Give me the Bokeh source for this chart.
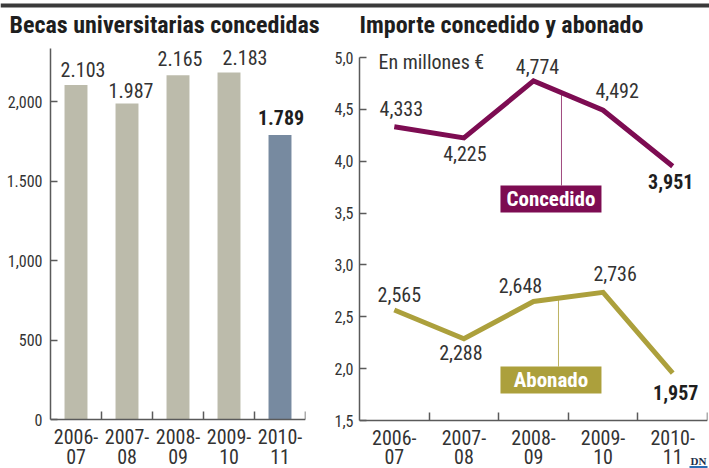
import numpy as np
from bokeh.plotting import figure
from bokeh.layouts import row, column
from bokeh.models import FixedTicker, Range1d
from bokeh.core.properties import value
from bokeh.embed import file_html
from bokeh.resources import INLINE

# ---------------- data ----------------
cursos = ["2006-07", "2007-08", "2008-09", "2009-10", "2010-11"]

becas = [2103, 1987, 2165, 2183, 1789]
becas_text = ["2.103", "1.987", "2.165", "2.183", "1.789"]
becas_ticks = [0, 500, 1000, 1500, 2000]
becas_tick_labels = ["0", "500", "1,000", "1.500", "2,000"]
becas_axis_top = 2333

concedido = [4.333, 4.225, 4.774, 4.492, 3.951]
concedido_text = ["4,333", "4,225", "4,774", "4,492", "3,951"]
abonado = [2.565, 2.288, 2.648, 2.736, 1.957]
abonado_text = ["2,565", "2,288", "2,648", "2,736", "1,957"]
importe_ticks = [1.5, 2.0, 2.5, 3.0, 3.5, 4.0, 4.5, 5.0]
importe_tick_labels = ["1,5", "2,0", "2,5", "3,0", "3,5", "4,0", "4,5", "5,0"]

titulo_becas = "Becas universitarias concedidas"
titulo_importe = "Importe concedido y abonado"
unidad = "En millones €"
series = ["Concedido", "Abonado"]
firma = "DN"

# ---------------- style ----------------
FONT = "Roboto Condensed"
TXT = "#333333"
DARK = "#1e1e1e"
AXIS = "#5a5a5a"
BAR = "#bcbbab"
BAR_HI = "#778aa0"
CONC = "#7d0c52"
ABON = "#aca03c"
W_LEFT, W_RIGHT = 330, 379
HEAD_H = 44
CHART_H = 424

xs = list(range(len(cursos)))
bounds = [i + 0.5 for i in xs]
bar_colors = [BAR] * (len(becas) - 1) + [BAR_HI]
line1 = [c.split("-")[0] + "-" for c in cursos]
line2 = [c.split("-")[1] for c in cursos]

# label nudges (pixels)
bar_dx = [7, 4, 2, 16, 1]
bar_dy = [-16, -13, -17, -15, -18]
conc_dx = [7, 1, 4, 14, -2]
conc_dy = [-18, 16, -14, -20, 15]
abon_dx = [5, -3, -13, 12, 3]
abon_dy = [-16, 14, -16, -19, 19]


def y_range_for(base, px_per_unit, px_above, px_below):
    """Range whose frame puts `base` px_below pixels above the frame bottom."""
    return Range1d(base - px_below / px_per_unit, base + px_above / px_per_unit)


def style_axes(p, yticks, ylabels, ybounds, standoff, px_below):
    p.grid.visible = False
    p.outline_line_color = None
    xa = p.xaxis[0]
    xa.fixed_location = ybounds[0]
    xa.ticker = FixedTicker(ticks=[], minor_ticks=bounds)
    xa.major_label_standoff = 0
    xa.major_tick_in = 0
    xa.major_tick_out = 0
    xa.minor_tick_in = 8
    xa.minor_tick_out = 0
    xa.minor_tick_line_color = AXIS
    xa.minor_tick_line_width = 1.5
    xa.axis_line_color = AXIS
    xa.axis_line_width = 1.5
    ya = p.yaxis[0]
    ya.bounds = ybounds
    ya.ticker = FixedTicker(ticks=yticks)
    ya.major_label_overrides = {t: lab for t, lab in zip(yticks, ylabels)}
    ya.major_tick_in = 7
    ya.major_tick_out = 0
    ya.major_tick_line_color = AXIS
    ya.major_tick_line_width = 1.5
    ya.minor_tick_line_color = None
    ya.axis_line_color = AXIS
    ya.axis_line_width = 1.5
    ya.major_label_text_font = FONT
    ya.major_label_text_font_size = "16px"
    ya.major_label_text_color = TXT
    ya.major_label_standoff = standoff
    # category labels under the axis, two lines each (second line kept inside the canvas)
    for txt, off in ((line1, 16.5), (line2, px_below - 12.5)):
        p.text(x=xs, y=[ybounds[0]] * len(xs), text=txt, y_offset=off, text_align="center",
               text_baseline="middle", text_font=value(FONT), text_font_size="20px", text_color=TXT)


# ---------------- header ----------------
head = figure(width=W_LEFT + W_RIGHT, height=HEAD_H, x_range=Range1d(0, W_LEFT + W_RIGHT),
              y_range=Range1d(0, HEAD_H), x_axis_type=None, y_axis_type=None,
              output_backend="svg", toolbar_location=None, min_border=0)
head.grid.visible = False
head.outline_line_color = None
head.quad(left=[0], right=[W_LEFT + W_RIGHT], bottom=[HEAD_H - 7], top=[HEAD_H - 3],
          fill_color="#3a3a3a", line_color=None)
head.text(x=[9, 359], y=[HEAD_H - 24.5] * 2, text=[titulo_becas, titulo_importe],
          text_baseline="middle", text_font=value(FONT), text_font_style="bold",
          text_font_size="24px", text_color=DARK)

# ---------------- left: bars ----------------
p1 = figure(width=W_LEFT, height=CHART_H, x_range=Range1d(-0.5, 4.5),
            y_range=y_range_for(0, 318 / 2000, 375, 49),
            output_backend="svg", toolbar_location=None,
            min_border_left=50, min_border_right=25, min_border_top=0, min_border_bottom=0)
style_axes(p1, becas_ticks, becas_tick_labels, (0, becas_axis_top), 8, 49)

p1.vbar(x=xs, top=becas, width=0.45, fill_color=bar_colors, line_color=None)
p1.text(x=xs[:-1], y=becas[:-1], text=becas_text[:-1], x_offset=bar_dx[:-1], y_offset=bar_dy[:-1],
        text_align="center", text_baseline="middle", text_font=value(FONT),
        text_font_size="20px", text_color=TXT)
p1.text(x=xs[-1:], y=becas[-1:], text=becas_text[-1:], x_offset=bar_dx[-1:], y_offset=bar_dy[-1:],
        text_align="center", text_baseline="middle", text_font=value(FONT),
        text_font_style="bold", text_font_size="20px", text_color=DARK)

# ---------------- right: lines ----------------
R_PX = 363 / 3.5
p2 = figure(width=W_RIGHT, height=CHART_H, x_range=Range1d(-0.5, 4.5),
            y_range=y_range_for(1.5, R_PX, 376, 48),
            output_backend="svg", toolbar_location=None,
            min_border_left=29, min_border_right=2, min_border_top=0, min_border_bottom=0)
style_axes(p2, importe_ticks, importe_tick_labels, (1.5, 5.0), 6, 48)

conc_tag = (2.251, 3.636)
abon_tag = (2.251, 1.890)
tag_half_h = 0.13
conc_lx, abon_lx = 2.402, 2.359
p2.segment(x0=[conc_lx], y0=[float(np.interp(conc_lx, xs, concedido))],
           x1=[conc_lx], y1=[conc_tag[1] + tag_half_h], line_color=CONC, line_alpha=0.75, line_width=1)
p2.segment(x0=[abon_lx], y0=[float(np.interp(abon_lx, xs, abonado))],
           x1=[abon_lx], y1=[abon_tag[1] + tag_half_h], line_color=ABON, line_alpha=0.8, line_width=1)

p2.line(xs, concedido, line_color=CONC, line_width=5, line_join="miter")
p2.line(xs, abonado, line_color=ABON, line_width=5, line_join="miter")

for vals, texts, dx, dy in ((concedido, concedido_text, conc_dx, conc_dy),
                            (abonado, abonado_text, abon_dx, abon_dy)):
    p2.text(x=xs[:-1], y=vals[:-1], text=texts[:-1], x_offset=dx[:-1], y_offset=dy[:-1],
            text_align="center", text_baseline="middle", text_font=value(FONT),
            text_font_size="20px", text_color=TXT)
    p2.text(x=xs[-1:], y=vals[-1:], text=texts[-1:], x_offset=dx[-1:], y_offset=dy[-1:],
            text_align="center", text_baseline="middle", text_font=value(FONT),
            text_font_style="bold", text_font_size="20px", text_color=DARK)

for (tx, ty), name, col in ((conc_tag, series[0], CONC), (abon_tag, series[1], ABON)):
    p2.rect(x=[tx], y=[ty], width=101, height=27, width_units="screen", height_units="screen",
            fill_color=col, line_color=None)
    p2.text(x=[tx], y=[ty], text=[name], text_align="center", text_baseline="middle",
            text_font=value(FONT), text_font_style="bold", text_font_size="21px",
            text_color="white")

p2.text(x=[-0.5], y=[5.0], text=[unidad], x_offset=19, y_offset=4, text_baseline="middle",
        text_font=value(FONT), text_font_size="20px", text_color=TXT)
p2.text(x=[4.5], y=[1.5], text=[firma], x_offset=-1, y_offset=40, text_align="right",
        text_baseline="middle", text_font=value("Liberation Serif"), text_font_style="bold",
        text_font_size="11px", text_color="#1d2d4a")
p2.rect(x=[4.5], y=[1.5 - 46.5 / R_PX], width=36, height=2, width_units="screen",
        height_units="screen", fill_color="#2a6db5", line_color=None)

layout = column(head, row(p1, p2))
open("out.html", "w").write(file_html(layout, INLINE))
